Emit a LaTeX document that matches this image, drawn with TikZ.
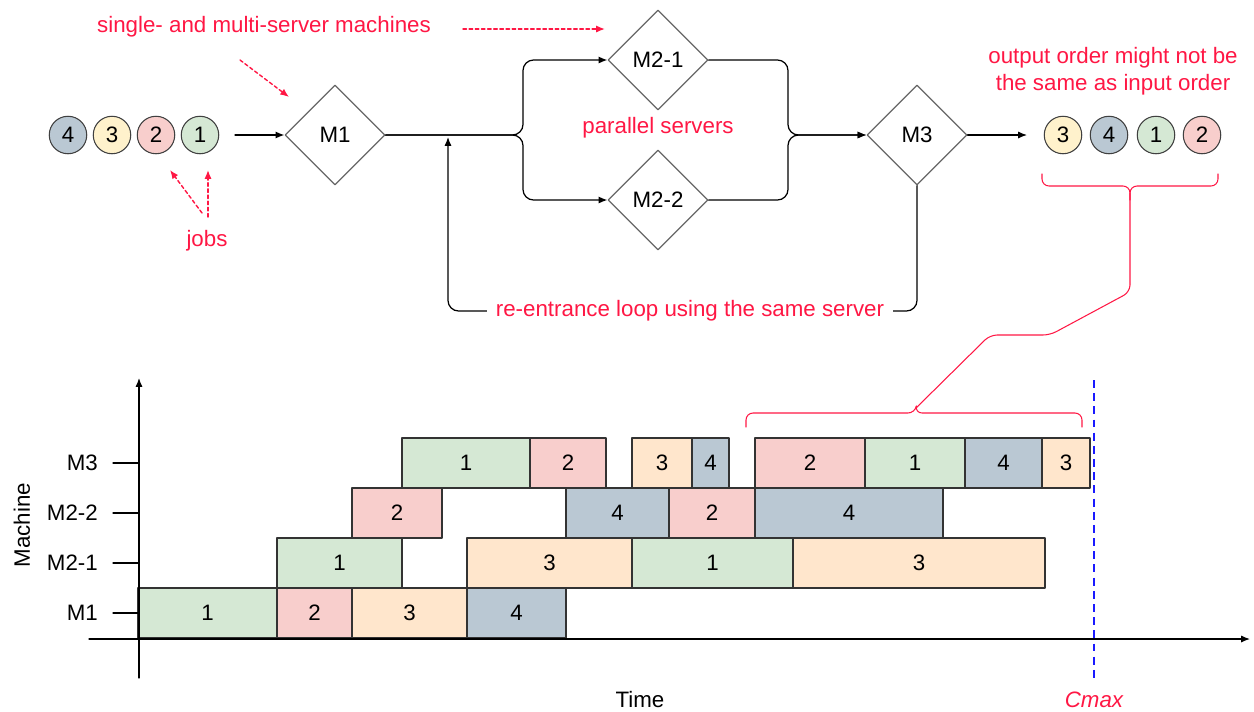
\documentclass[tikz,border=0pt]{standalone}
\usepackage{fontspec}
\setmainfont{Liberation Sans}
\usetikzlibrary{shapes.geometric,arrows.meta}

\definecolor{jc1}{HTML}{D5E8D4}
\definecolor{jc2}{HTML}{F8CECC}
\definecolor{jc3}{HTML}{FFE6CC}
\definecolor{jc4}{HTML}{BAC8D3}
\definecolor{jy3}{HTML}{FFF2CC}
\definecolor{notered}{HTML}{FF1744}
\definecolor{cmaxblue}{HTML}{1A1AFF}

\begin{document}
\begin{tikzpicture}[x=0.02cm, y=-0.02cm, line cap=round, line join=round,
    every node/.style={font=\fontsize{12.7}{15.3}\selectfont},
    machine/.style={diamond, draw=black!60, line width=0.7pt, minimum size=2cm, inner sep=0pt},
    job/.style={circle, draw=black!75, line width=0.6pt, minimum size=0.75cm, inner sep=0pt},
    note/.style={text=notered},
    flow/.style={line width=0.7pt, -{Latex[length=5pt,width=4pt]}},
    hint/.style={draw=notered, line width=0.8pt, dash pattern=on 2pt off 1.5pt, -{Latex[length=5pt,width=4pt]}},
    brace/.style={draw=notered, line width=0.6pt, rounded corners=4pt},
    block/.style={draw=black!80, line width=0.6pt}]

    \useasboundingbox (0,0) rectangle (1254,711);

    % flow line
    \node[job, fill=jc4] (j4) at (68,135) {4};
    \node[job, fill=jy3] (j3) at (112,135) {3};
    \node[job, fill=jc2] (j2) at (156,135) {2};
    \node[job, fill=jc1] (j1) at (200,135) {1};

    \node[machine] (M1) at (335,135) {M1};
    \node[machine] (M21) at (658,60) {M2-1};
    \node[machine] (M22) at (658,200) {M2-2};
    \node[machine] (M3) at (917,135) {M3};

    \node[job, fill=jy3] (o3) at (1063,135) {3};
    \node[job, fill=jc4] (o4) at (1109,135) {4};
    \node[job, fill=jc1] (o1) at (1156,135) {1};
    \node[job, fill=jc2] (o2) at (1202,135) {2};

    \coordinate (qin) at (235,135);
    \coordinate (fork) at (523,135);
    \coordinate (merge) at (788,135);
    \coordinate (qout) at (1027,135);
    \coordinate (loopL) at (448,311);
    \coordinate (loopin) at (448,137);

    \draw[flow] (qin) -- (M1.west);
    \draw[flow, rounded corners=6pt] (M1.east) -- (fork) |- (M21.west);
    \draw[flow, rounded corners=6pt] (M1.east) -- (fork) |- (M22.west);
    \draw[flow, rounded corners=6pt] (M21.east) -| (merge) -- (M3.west);
    \draw[flow, rounded corners=6pt] (M22.east) -| (merge) -- (M3.west);
    \draw[flow] (M3.east) -- (qout);
    \draw[flow, rounded corners=6pt] (M3.south) |- (loopL) -- (loopin);
    \node[note, fill=white, inner xsep=5pt] (loopnote) at (690,311) {re-entrance loop using the same server};

    % notes
    \node[note] (multinote) at (264,27) {single- and multi-server machines};
    \node[note] (parnote) at (658,128) {parallel servers};
    \node[note] (jobsnote) at (207,241) {jobs};
    \node[note, align=center] (ordnote) at (1113,71) {output order might not be\\the same as input order};

    \coordinate (h1a) at (240,60);
    \coordinate (h1b) at (289,97);
    \coordinate (h2a) at (463,29);
    \coordinate (h2b) at (605,29);
    \coordinate (h3a) at (202,213);
    \coordinate (h3b) at (170,170);
    \coordinate (h4a) at (208,217);
    \coordinate (h4b) at (208,170);
    \draw[hint] (h1a) -- (h1b);
    \draw[hint] (h2a) -- (h2b);
    \draw[hint] (h3a) -- (h3b);
    \draw[hint] (h4a) -- (h4b);

    % gantt chart
    \foreach \r/\a/\b/\j in {613/138/277/1, 613/277/352/2, 613/352/467/3, 613/467/566/4,
        563/277/402/1, 563/467/632/3, 563/632/793/1, 563/793/1045/3,
        513/352/442/2, 513/566/669/4, 513/669/755/2, 513/755/943/4,
        463/402/530/1, 463/530/606/2, 463/632/692/3, 463/692/729/4,
        463/755/865/2, 463/865/965/1, 463/965/1042/4, 463/1042/1090/3} {
        \draw[block, fill=jc\j] (\a,\r-25) rectangle (\b,\r+25);
        \node (blk\r-\a) at ({(\a+\b)/2},\r) {\j};
    }

    \foreach \y/\m in {463/M3, 513/M2-2, 563/M2-1, 613/M1} {
        \draw[line width=0.6pt] (113,\y) -- (139,\y);
        \node[anchor=east] (lab\m) at (104,\y) {\m};
    }

    \draw[line width=0.7pt, -{Latex[length=5pt,width=4pt]}] (89,639) -- (1250,639);
    \draw[line width=0.7pt, -{Latex[length=5pt,width=4pt]}] (139,678) -- (139,378);

    \draw[cmaxblue, line width=1.4pt, line cap=butt, dash pattern=on 4.5pt off 3pt] (1094,380) -- (1094,678);

    \node[rotate=90] (machlab) at (22,525) {Machine};
    \node (timelab) at (640,700) {Time};
    \node[note, font=\fontsize{12.7}{15.3}\selectfont\itshape] (cmaxlab) at (1094,700) {Cmax};

    % braces
    \draw[brace] (1042,174) |- (1130,186) -- (1130,292) -- (1050,335) -- (990,335) -- (916,408);
    \draw[brace] (1218,174) |- (1130,186) -- (1130,200);
    \draw[brace] (746,427) |- (915,413) -- (916,408);
    \draw[brace] (1082,427) |- (915,413) -- (916,408);

\end{tikzpicture}
\end{document}
